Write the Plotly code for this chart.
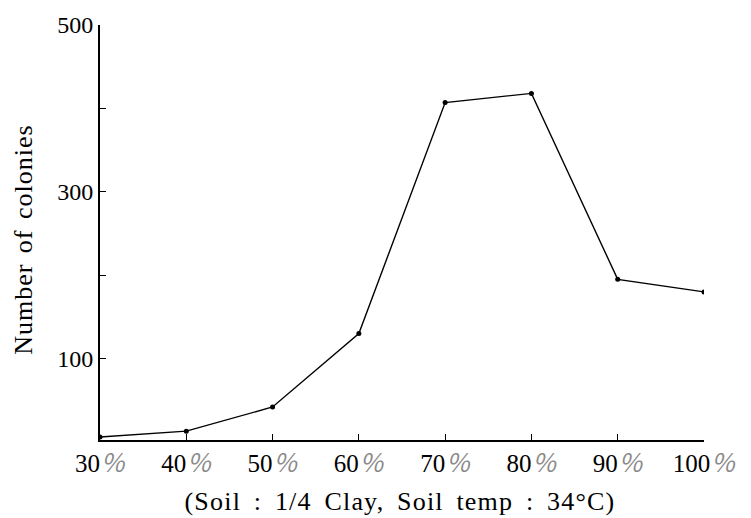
import plotly.graph_objects as go

moisture = [30, 40, 50, 60, 70, 80, 90, 100]
colonies = [6, 13, 42, 130, 407, 418, 195, 180]
x_tick_numbers = ["30", "40", "50", "60", "70", "80", "90", "100"]
y_tick_vals = [100, 200, 300, 400, 500]
y_tick_labels = ["100", "", "300", "", "500"]
x_title = "(Soil : 1/4 Clay, Soil temp : 34°C)"
y_title = "Number of colonies"

x_tick_labels = [n + "<span style='color:#8a8a8a;font-family:Noto Sans CJK SC'><i>％</i></span>"
                 for n in x_tick_numbers]

font = "Liberation Serif, Times New Roman, serif"

fig = go.Figure()
fig.add_trace(go.Scatter(
    x=moisture, y=colonies, mode="lines+markers",
    line=dict(color="black", width=1.4),
    marker=dict(color="black", size=5),
    showlegend=False,
))
fig.update_layout(
    width=751, height=518,
    margin=dict(l=100, r=47, t=20, b=78),
    paper_bgcolor="white", plot_bgcolor="white",
    font=dict(family=font, color="black", size=24),
)
fig.update_xaxes(
    range=[30, 100], tickvals=moisture, ticktext=x_tick_labels,
    ticks="inside", ticklen=6, tickwidth=1.2, tickcolor="black",
    showline=True, linecolor="black", linewidth=2, showgrid=False, zeroline=False,
    tickfont=dict(size=25, family=font),
)
fig.update_yaxes(
    range=[2.4, 500], tickvals=y_tick_vals, ticktext=y_tick_labels,
    ticks="inside", ticklen=6, tickwidth=1.2, tickcolor="black",
    showline=True, linecolor="black", linewidth=2, showgrid=False, zeroline=False,
    tickfont=dict(size=24, family=font),
)
fig.add_annotation(
    text=x_title, xref="paper", yref="paper", x=0.497, y=-0.148,
    xanchor="center", yanchor="middle", showarrow=False,
    font=dict(size=26, family=font, color="black"), name="xtitle",
)
fig.add_annotation(
    text=y_title, xref="paper", yref="paper", x=-0.127, y=0.483,
    xanchor="center", yanchor="middle", showarrow=False, textangle=-90,
    font=dict(size=26, family=font, color="black"), name="ytitle",
)

post = """
var gd = document.getElementById('{plot_id}');
var anns = gd.querySelectorAll('.annotation-text');
if (anns.length > 0) { anns[0].style.letterSpacing='1.2px'; anns[0].style.wordSpacing='5px'; }
if (anns.length > 1) { anns[1].style.letterSpacing='1px'; anns[1].style.wordSpacing='3px'; }
"""
fig.write_html("out.html", post_script=post)
